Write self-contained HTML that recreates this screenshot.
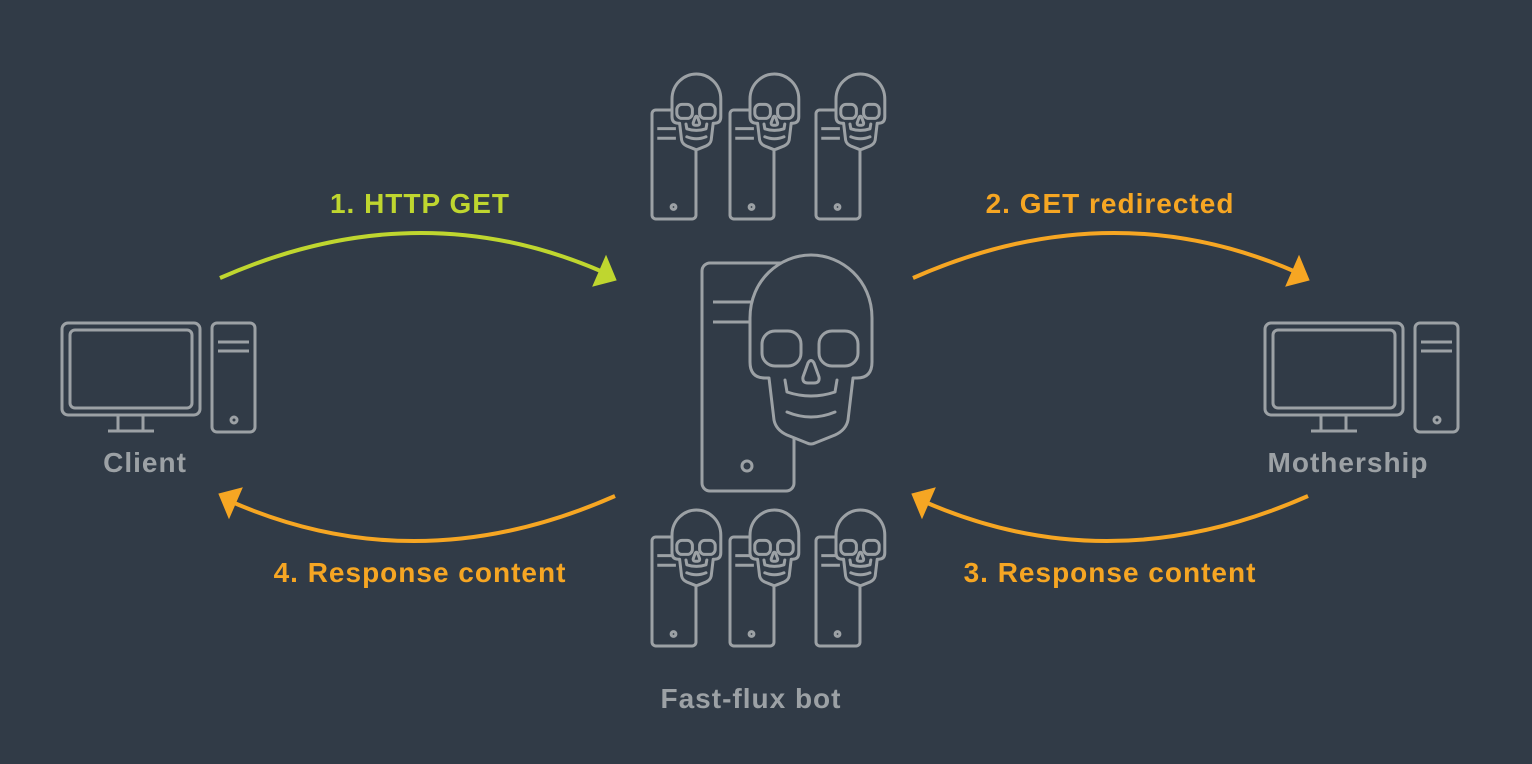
<!DOCTYPE html>
<html><head><meta charset="utf-8"><style>
html,body{margin:0;padding:0;background:#313b47;}
svg{display:block}
text{font-family:"Liberation Sans",sans-serif;font-weight:bold;}
</style></head><body>
<svg width="1532" height="764" viewBox="0 0 1532 764" xmlns="http://www.w3.org/2000/svg">
<rect width="1532" height="764" fill="#313b47"/>
<defs>
<g id="srv">
<rect x="0" y="0" width="92" height="228" rx="8" fill="#313b47" stroke="#9ca1a5" stroke-width="3" vector-effect="non-scaling-stroke"/>
<line x1="11" y1="39" x2="50" y2="39" stroke="#9ca1a5" stroke-width="3" vector-effect="non-scaling-stroke"/>
<line x1="11" y1="59" x2="50" y2="59" stroke="#9ca1a5" stroke-width="3" vector-effect="non-scaling-stroke"/>
<circle cx="45" cy="203" r="5" fill="none" stroke="#9ca1a5" stroke-width="3" vector-effect="non-scaling-stroke"/>
</g>
<g id="skull" fill="#313b47" stroke="#9ca1a5" stroke-width="3" stroke-linejoin="round" stroke-linecap="round">
<path vector-effect="non-scaling-stroke" d="M15,123 Q0,123 0,107 L0,63 C0,25 30,0 61,0 C92,0 122,25 122,63 L122,107 Q122,123 107,123 L103,123 L98,165 Q96,175 85,180 L65,188 Q61,190 57,188 L37,180 Q26,175 24,165 L19,123 Z"/>
<path vector-effect="non-scaling-stroke" fill="none" d="M35,125 L37,137 Q61,145 85,137 L87,125"/>
<path vector-effect="non-scaling-stroke" fill="none" d="M37,157 Q61,167 85,157"/>
<rect vector-effect="non-scaling-stroke" x="12" y="76" width="39" height="35" rx="13"/>
<rect vector-effect="non-scaling-stroke" x="69" y="76" width="39" height="35" rx="13"/>
<path vector-effect="non-scaling-stroke" d="M58,108 Q61,103 64,108 L69,122 Q70,128 64,128 L58,128 Q52,128 53,122 Z"/>
</g>
<g id="pc" fill="none" stroke="#9ca1a5" stroke-width="3">
<rect x="62" y="323" width="138" height="92" rx="6"/>
<rect x="70" y="330" width="122" height="78" rx="5"/>
<path d="M118,415 L118,430 M143,415 L143,430 M108,431 L154,431"/>
<rect x="212" y="323" width="43" height="109" rx="5"/>
<path d="M218,342 L249,342 M218,351 L249,351"/>
<circle cx="234" cy="420" r="3"/>
</g>
<g id="arr">
<path d="M220,278 Q417,191 603,272" fill="none" stroke-width="4"/>
<polygon points="606,256 616,280 593,286"/>
</g>
</defs>

<use href="#srv" transform="translate(702,263)"/>
<use href="#skull" transform="translate(750,255)"/>

<g transform="translate(652,110) scale(0.478)"><use href="#srv"/></g>
<g transform="translate(672,74) scale(0.4)"><use href="#skull"/></g>
<g transform="translate(730,110) scale(0.478)"><use href="#srv"/></g>
<g transform="translate(750,74) scale(0.4)"><use href="#skull"/></g>
<g transform="translate(816,110) scale(0.478)"><use href="#srv"/></g>
<g transform="translate(836,74) scale(0.4)"><use href="#skull"/></g>

<g transform="translate(652,537) scale(0.478)"><use href="#srv"/></g>
<g transform="translate(672,510) scale(0.4)"><use href="#skull"/></g>
<g transform="translate(730,537) scale(0.478)"><use href="#srv"/></g>
<g transform="translate(750,510) scale(0.4)"><use href="#skull"/></g>
<g transform="translate(816,537) scale(0.478)"><use href="#srv"/></g>
<g transform="translate(836,510) scale(0.4)"><use href="#skull"/></g>

<use href="#pc"/>
<use href="#pc" transform="translate(1203,0)"/>

<g fill="#bfd62f" stroke="#bfd62f"><use href="#arr"/></g>
<g fill="#f6a623" stroke="#f6a623" transform="translate(693,0)"><use href="#arr"/></g>
<g fill="#f6a623" stroke="#f6a623" transform="rotate(180,417.5,387)"><use href="#arr"/></g>
<g fill="#f6a623" stroke="#f6a623" transform="rotate(180,1110.5,387) translate(693,0)"><use href="#arr"/></g>

<text x="420" y="213" font-size="28" letter-spacing="1" fill="#bfd62f" text-anchor="middle">1. HTTP GET</text>
<text x="1110" y="213" font-size="28" letter-spacing="1" fill="#f6a623" text-anchor="middle">2. GET redirected</text>
<text x="1110" y="582" font-size="28" letter-spacing="1" fill="#f6a623" text-anchor="middle">3. Response content</text>
<text x="420" y="582" font-size="28" letter-spacing="1" fill="#f6a623" text-anchor="middle">4. Response content</text>
<text x="145" y="472" font-size="28" letter-spacing="1" fill="#9ca1a5" text-anchor="middle">Client</text>
<text x="1348" y="472" font-size="28" letter-spacing="1" fill="#9ca1a5" text-anchor="middle">Mothership</text>
<text x="751" y="708" font-size="28" letter-spacing="1" fill="#9ca1a5" text-anchor="middle">Fast-flux bot</text>
</svg>
</body></html>
